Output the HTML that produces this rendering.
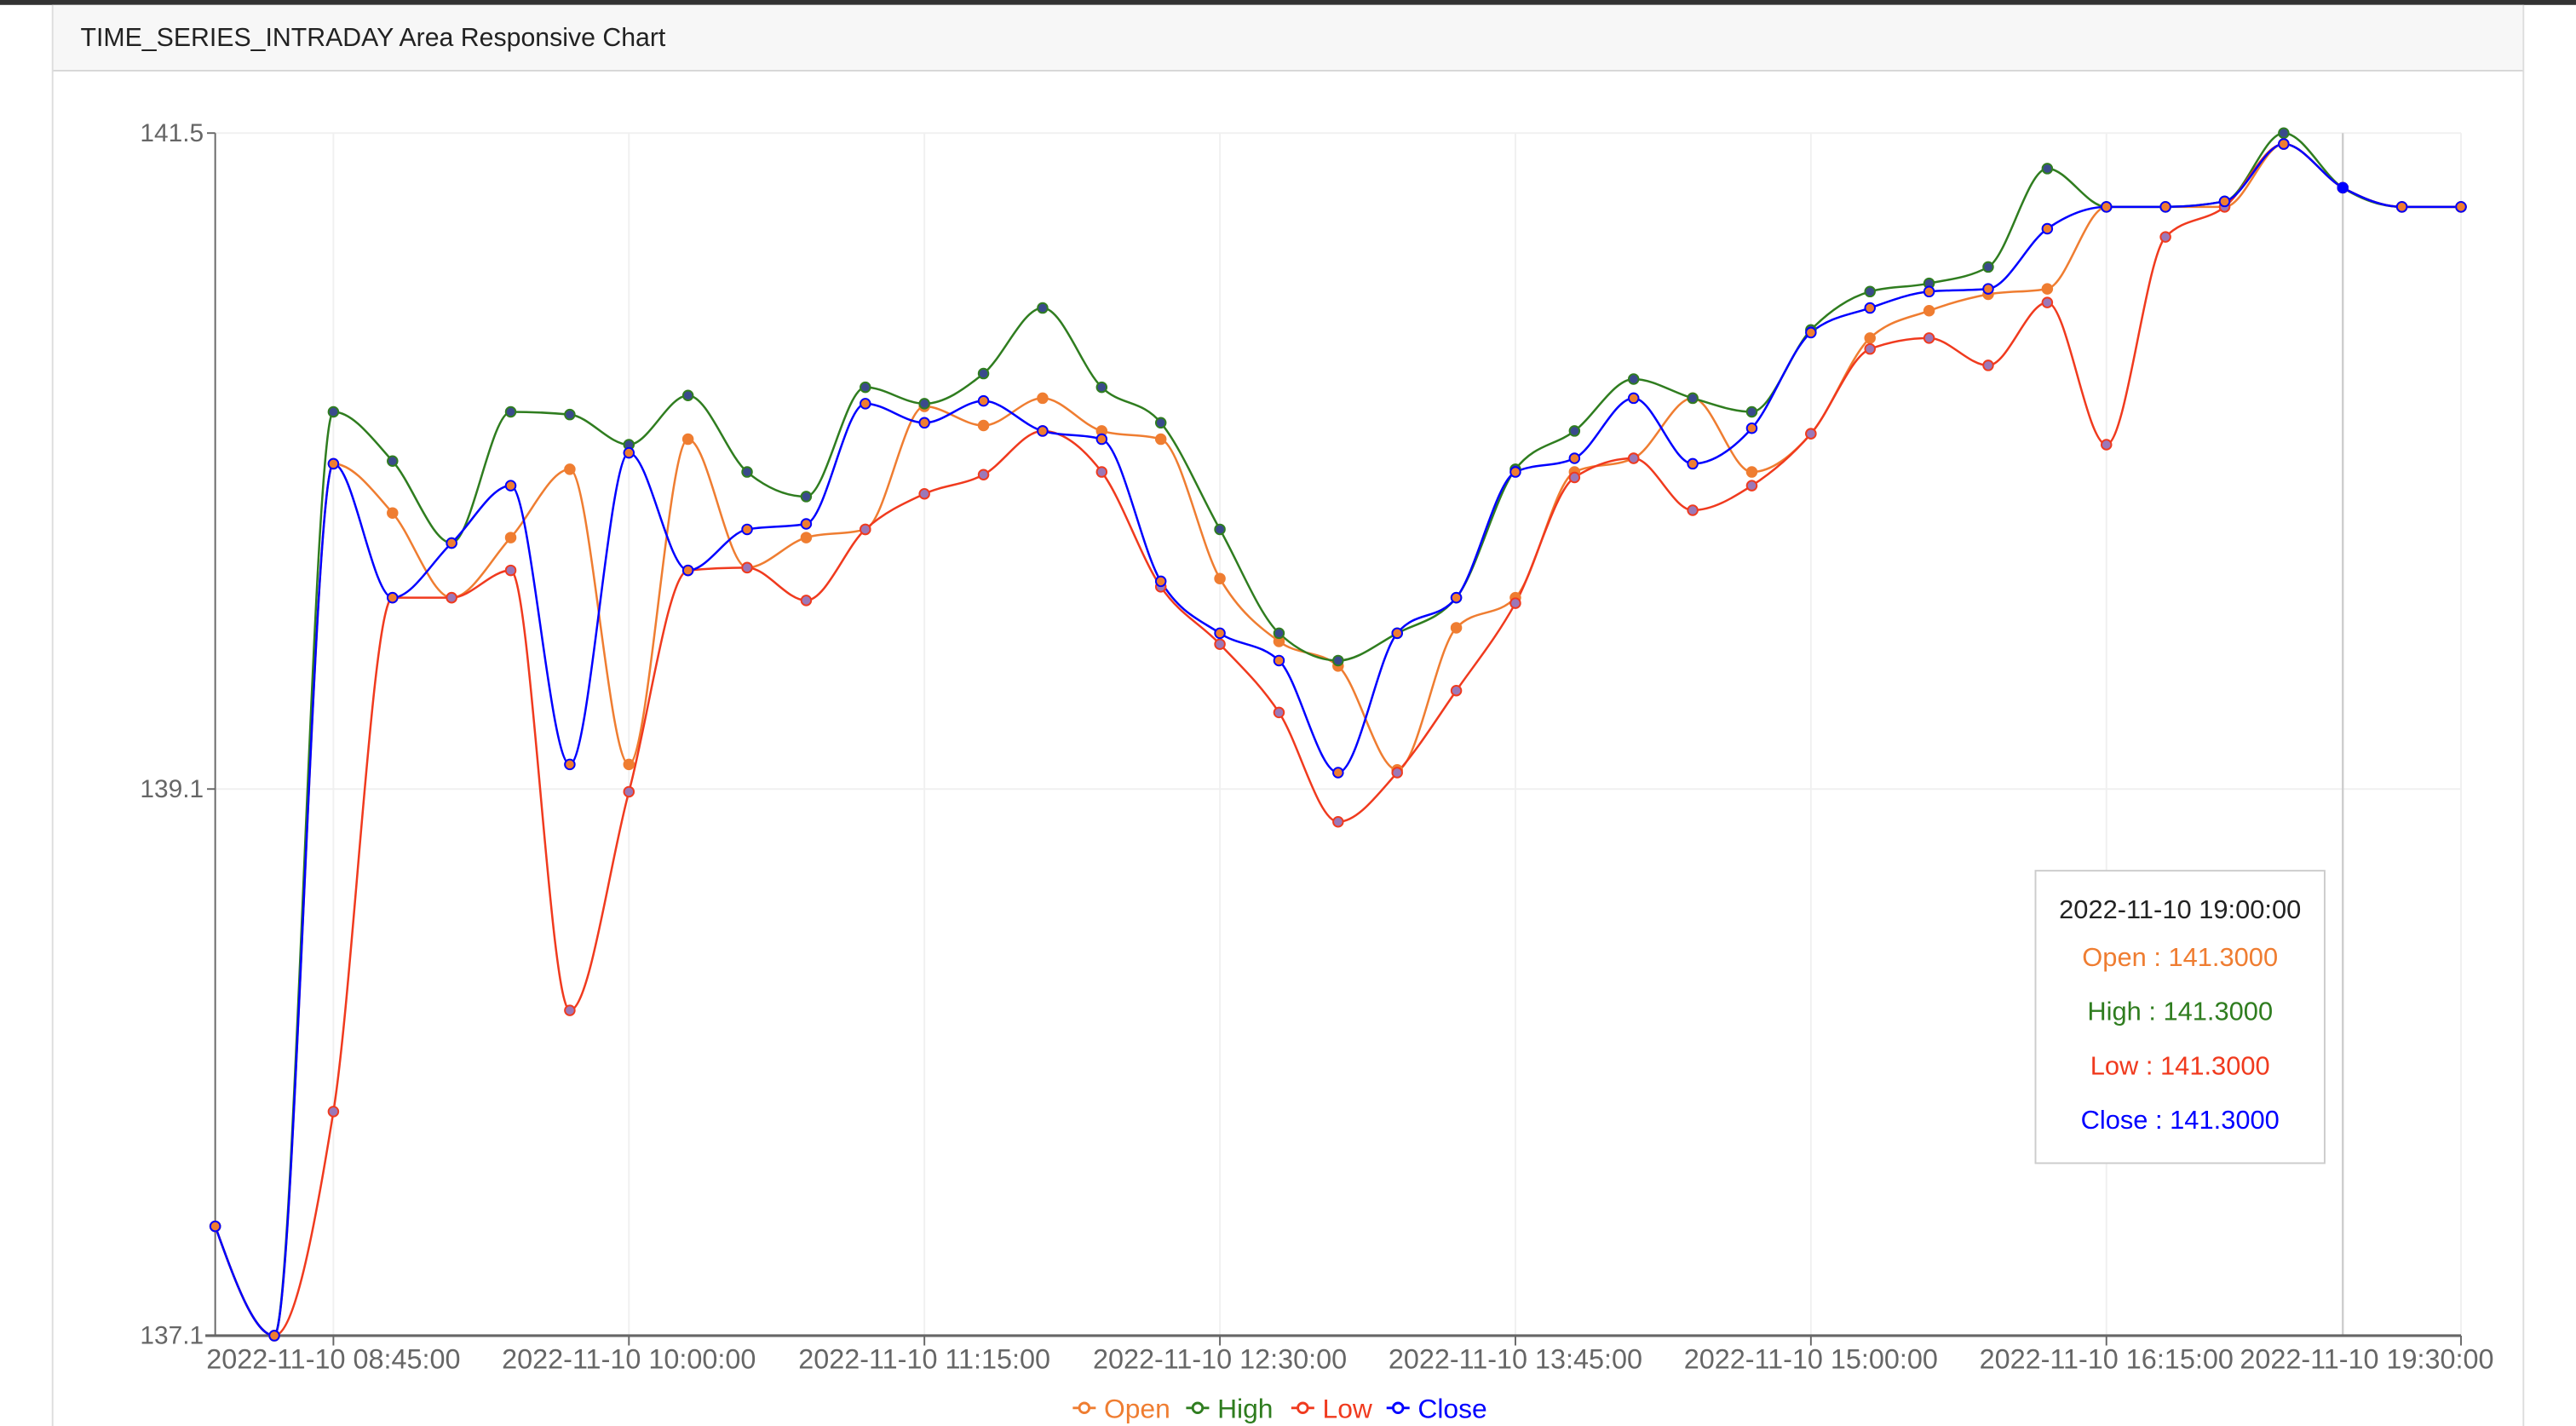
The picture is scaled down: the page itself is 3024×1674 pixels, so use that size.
<!DOCTYPE html>
<html><head><meta charset="utf-8">
<style>
html,body{margin:0;padding:0;background:#fff;width:3024px;height:1674px;overflow:hidden}
svg{display:block;font-family:"Liberation Sans",sans-serif}
</style></head>
<body>
<svg id="chart" width="3024" height="1674" viewBox="0 0 1568 868" preserveAspectRatio="none" xmlns="http://www.w3.org/2000/svg">
<rect x="0" y="0" width="1568" height="3" fill="#333"/>
<rect x="32" y="3" width="1504" height="40" fill="#f7f7f7"/>
<line x1="32" y1="43" x2="1536" y2="43" stroke="#d6d6d6" stroke-width="1"/>
<line x1="32" y1="3" x2="32" y2="868" stroke="#ddd" stroke-width="1"/>
<line x1="1536" y1="3" x2="1536" y2="868" stroke="#ddd" stroke-width="1"/>
<text x="49" y="28" font-size="15.7" fill="#222">TIME_SERIES_INTRADAY Area Responsive Chart</text>
<g id="grid"></g>
<g id="axes"></g>
<g id="series"></g>
<g id="legend"></g>
<g id="tooltip"></g>
</svg>
<script>
const categories = ["08:15","08:30","08:45","09:00","09:15","09:30","09:45","10:00","10:15","10:30","10:45","11:00","11:15","11:30","11:45","12:00","12:15","12:30","12:45","13:00","13:15","13:30","13:45","14:00","14:15","14:30","14:45","15:00","15:15","15:30","15:45","16:00","16:15","16:30","16:45","17:00","19:00","19:15","19:30"].map(t=>"2022-11-10 "+t+":00");
const openVals = [137.50,137.10,140.29,140.11,139.80,140.02,140.27,139.19,140.38,139.91,140.02,140.05,140.50,140.43,140.53,140.41,140.38,139.87,139.64,139.55,139.17,139.69,139.80,140.26,140.31,140.53,140.26,140.40,140.75,140.85,140.91,140.93,141.23,141.23,141.23,141.46,141.30,141.23,141.23];
const highVals = [137.50,137.10,140.48,140.30,140.00,140.48,140.47,140.36,140.54,140.26,140.17,140.57,140.51,140.62,140.86,140.57,140.44,140.05,139.67,139.57,139.67,139.80,140.27,140.41,140.60,140.53,140.48,140.78,140.92,140.95,141.01,141.37,141.23,141.23,141.25,141.50,141.30,141.23,141.23];
const lowVals = [137.50,137.10,137.92,139.80,139.80,139.90,138.29,139.09,139.90,139.91,139.79,140.05,140.18,140.25,140.41,140.26,139.84,139.63,139.38,138.98,139.16,139.46,139.78,140.24,140.31,140.12,140.21,140.40,140.71,140.75,140.65,140.88,140.36,141.12,141.23,141.46,141.30,141.23,141.23];
const closeVals = [137.50,137.10,140.29,139.80,140.00,140.21,139.19,140.33,139.90,140.05,140.07,140.51,140.44,140.52,140.41,140.38,139.86,139.67,139.57,139.16,139.67,139.80,140.26,140.31,140.53,140.29,140.42,140.77,140.86,140.92,140.93,141.15,141.23,141.23,141.25,141.46,141.30,141.23,141.23];
const yTicks = [141.5,139.1,137.1];
const xTickIdx = [2,7,12,17,22,27,32,38];
const hoverIdx = 36;

const NS="http://www.w3.org/2000/svg";
const X0=131,X1=1498,Y0=813,Y1=81,VMIN=137.1,VMAX=141.5;
function xs(i){return X0+(X1-X0)*i/(categories.length-1);}
function ys(v){return Y0-(v-VMIN)/(VMAX-VMIN)*(Y0-Y1);}
function mk(tag,attrs,parent){const e=document.createElementNS(NS,tag);for(const k in attrs)e.setAttribute(k,attrs[k]);parent.appendChild(e);return e;}
const grid=document.getElementById('grid'),axes=document.getElementById('axes'),ser=document.getElementById('series'),leg=document.getElementById('legend'),tip=document.getElementById('tooltip');

yTicks.forEach(v=>{
  const g=mk('line',{x1:X0,x2:X1,y1:ys(v),y2:ys(v),stroke:'#f0f0f0','stroke-width':1},grid);
  
  
  mk('line',{x1:X0-5,x2:X0,y1:ys(v),y2:ys(v),stroke:'#666','stroke-width':1},axes);
  const t=mk('text',{x:X0-7,y:ys(v)+5,'text-anchor':'end','font-size':15.5,fill:'#666'},axes);
  t.textContent=v.toFixed(1);
  
  
});
xTickIdx.forEach((i,k)=>{
  const g=mk('line',{x1:xs(i),x2:xs(i),y1:Y1,y2:Y0,stroke:'#f0f0f0','stroke-width':1},grid);
  
  
  mk('line',{x1:xs(i),x2:xs(i),y1:Y0,y2:Y0+6,stroke:'#666','stroke-width':1},axes);
  const last=k===xTickIdx.length-1;
  const t=mk('text',{x:last?1518:xs(i),y:Y0+20,'text-anchor':last?'end':'middle','font-size':16.8,fill:'#666'},axes);
  t.textContent=categories[i];
  
  
});
const ya=mk('line',{x1:X0,x2:X0,y1:Y1,y2:Y0,stroke:'#666','stroke-width':1},axes);


const xa=mk('line',{x1:X0-6,x2:X1,y1:Y0,y2:Y0,stroke:'#666','stroke-width':1.6},axes);


const cur=mk('line',{x1:xs(hoverIdx),x2:xs(hoverIdx),y1:Y1,y2:Y0,stroke:'#ccc','stroke-width':1.2},grid);



// monotone X curve (d3 curveMonotoneX)
function pathFor(vals){
  const n=vals.length,x=vals.map((v,i)=>xs(i)),y=vals.map(ys);
  const s=[],t=new Array(n);
  for(let i=0;i<n-1;i++)s.push((y[i+1]-y[i])/(x[i+1]-x[i]));
  for(let i=1;i<n-1;i++){
    const s0=s[i-1],s1=s[i],h0=x[i]-x[i-1],h1=x[i+1]-x[i];
    const p=(s0*h1+s1*h0)/(h0+h1);
    t[i]=(Math.sign(s0)+Math.sign(s1))*Math.min(Math.abs(s0),Math.abs(s1),0.5*Math.abs(p))||0;
  }
  const h=x[1]-x[0];
  t[0]=(3*s[0]-t[1])/2; t[n-1]=(3*s[n-2]-t[n-2])/2;
  let d='M'+x[0]+','+y[0];
  for(let i=0;i<n-1;i++){
    const dx=(x[i+1]-x[i])/3;
    d+=' C'+(x[i]+dx)+','+(y[i]+dx*t[i])+' '+(x[i+1]-dx)+','+(y[i+1]-dx*t[i+1])+' '+x[i+1]+','+y[i+1];
  }
  return d;
}
const seriesList=[
  {name:'Open',vals:openVals,stroke:'#ef7d31',fill:'#ef7d31'},
  {name:'High',vals:highVals,stroke:'#2f7d1f',fill:'#3a4a8c'},
  {name:'Low',vals:lowVals,stroke:'#f03a1e',fill:'#9b78b8'},
  {name:'Close',vals:closeVals,stroke:'#0000ff',fill:'#ef7d31'}
];
seriesList.forEach(s=>{
  const pth=mk('path',{d:pathFor(s.vals),fill:'none',stroke:s.stroke,'stroke-width':1.3},ser);
  
  
});
seriesList.forEach(s=>{
  s.vals.forEach((v,i)=>{
    const c=mk('circle',{cx:xs(i),cy:ys(v),r:3,fill:s.fill,stroke:s.stroke,'stroke-width':1},ser);
    
    
  });
});
const ap=mk('circle',{cx:xs(hoverIdx),cy:ys(closeVals[hoverIdx]),r:3,fill:'#0000ff'},ser);



// legend
let lx=653;
const lw={Open:69,High:64,Low:58,Close:60};
seriesList.forEach(s=>{
  const g=mk('g',{},leg);
  
  
  mk('line',{x1:lx,x2:lx+14,y1:857,y2:857,stroke:s.stroke,'stroke-width':1.5},g);
  mk('circle',{cx:lx+7,cy:857,r:3,fill:'#fff',stroke:s.stroke,'stroke-width':1.5},g);
  const t=mk('text',{x:lx+19,y:863,'font-size':16.5,fill:s.stroke},g);
  t.textContent=s.name;
  lx+=lw[s.name];
});

// tooltip
const tb=mk('rect',{x:1239,y:530,width:176,height:178,fill:'#fff',stroke:'#ccc','stroke-width':1},tip);


const tt=mk('text',{x:1327,y:559,'text-anchor':'middle','font-size':16,fill:'#222'},tip);
tt.textContent=categories[hoverIdx];


seriesList.forEach((s,k)=>{
  const t=mk('text',{x:1327,y:588+33*k,'text-anchor':'middle','font-size':16,fill:s.stroke},tip);
  t.textContent=s.name+' : '+s.vals[hoverIdx].toFixed(4);
  
  
});
</script>
</body></html>
